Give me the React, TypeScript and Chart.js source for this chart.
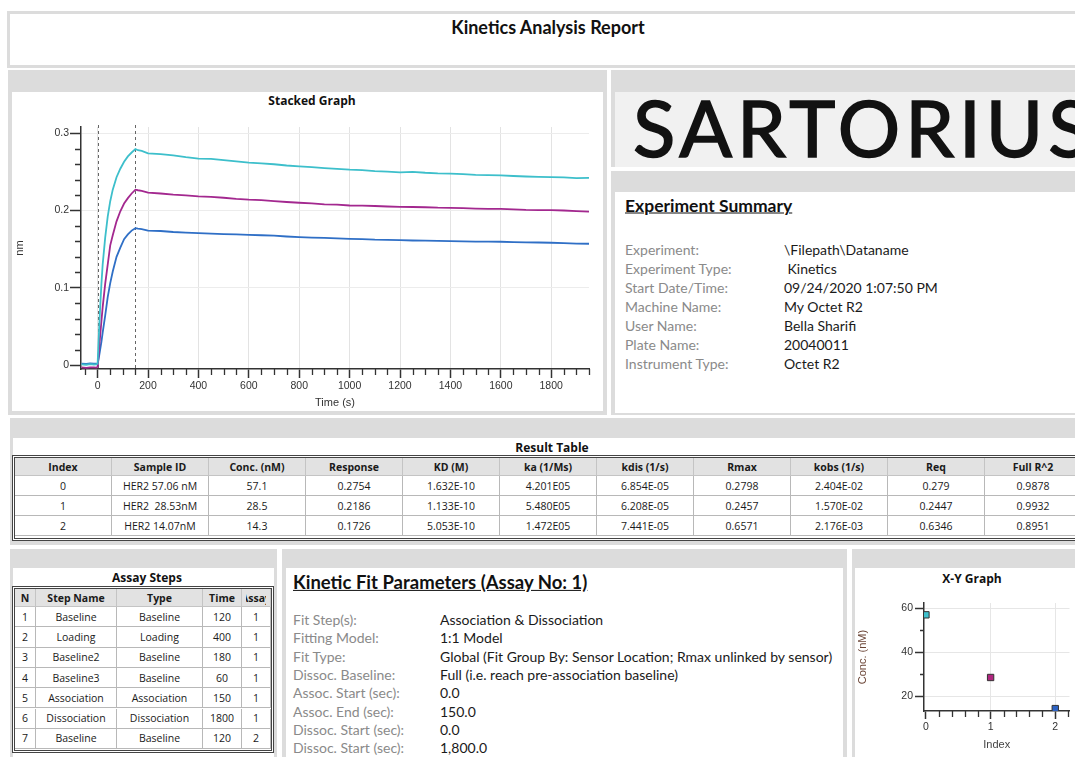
import React, { useEffect, useRef } from "react";
import { Chart, registerables } from "chart.js";
Chart.register(...registerables);

// ---------- Stacked graph data ----------
const TIME_S = [
  -64, -45, -30, -15, -5, 0,
  5, 10, 15, 20, 30, 40, 50, 60, 75, 90, 105, 120, 135, 150,
  160, 175, 200, 250, 300, 350, 400, 450, 500, 550, 600, 650, 700, 750, 800, 850, 900, 950,
  1000, 1050, 1100, 1150, 1200, 1250, 1300, 1350, 1400, 1450, 1500, 1550, 1600, 1650, 1700,
  1750, 1800, 1850, 1900, 1950,
];
const CYAN_NM = [
  0.001, 0.0005, 0.0012, 0.0008, 0.001, 0.002,
  0.04, 0.075, 0.105, 0.13, 0.165, 0.192, 0.212, 0.227, 0.243, 0.254, 0.263, 0.27, 0.275, 0.2795,
  0.278, 0.2772, 0.274, 0.2728, 0.2712, 0.269, 0.2672, 0.2668, 0.2652, 0.2635, 0.2618, 0.261, 0.2598,
  0.2582, 0.257, 0.256, 0.2548, 0.2538, 0.2528, 0.2522, 0.251, 0.2503, 0.2492, 0.25, 0.2488, 0.248,
  0.2478, 0.247, 0.2462, 0.2458, 0.2455, 0.2446, 0.244, 0.2436, 0.2432, 0.2428, 0.242, 0.2422,
];
const MAGENTA_NM = [
  -0.003, -0.0035, -0.0028, -0.003, -0.0032, -0.002,
  0.018, 0.038, 0.057, 0.075, 0.105, 0.13, 0.155, 0.168, 0.186, 0.199, 0.209, 0.216, 0.222, 0.227,
  0.2262, 0.2255, 0.223, 0.222, 0.2205, 0.2195, 0.2182, 0.2176, 0.2165, 0.215, 0.214, 0.2135, 0.2122,
  0.211, 0.21, 0.2092, 0.208, 0.2075, 0.2065, 0.2062, 0.2058, 0.2052, 0.2048, 0.2045, 0.2042, 0.2036,
  0.2035, 0.203, 0.2025, 0.2022, 0.202, 0.2015, 0.2008, 0.2006, 0.2004, 0.2, 0.1993, 0.1985,
];
const BLUE_NM = [
  0.002, 0.0015, 0.0022, 0.0018, 0.002, 0.001,
  0.01, 0.02, 0.03, 0.042, 0.064, 0.088, 0.106, 0.121, 0.14, 0.152, 0.163, 0.169, 0.174, 0.1772,
  0.1765, 0.176, 0.174, 0.1735, 0.1722, 0.1715, 0.1708, 0.1702, 0.1695, 0.169, 0.1686, 0.168, 0.1674,
  0.1664, 0.1656, 0.165, 0.1645, 0.164, 0.1634, 0.163, 0.1623, 0.162, 0.1617, 0.1612, 0.161, 0.1606,
  0.1604, 0.16, 0.1598, 0.1597, 0.1596, 0.1592, 0.1588, 0.1586, 0.1583, 0.1578, 0.1572, 0.157,
];
const SERIES_LABELS = ["HER2 57.06 nM", "HER2 28.53nM", "HER2 14.07nM"];
const SERIES_COLORS = ["#3dbfcb", "#a3288f", "#2f6fc6"];
const STEP_BOUNDARIES_S = [0, 150];

// ---------- Result table ----------
const RESULT_COLUMNS = ["Index", "Sample ID", "Conc. (nM)", "Response", "KD (M)", "ka (1/Ms)", "kdis (1/s)", "Rmax", "kobs (1/s)", "Req", "Full R^2"];
const RESULT_INDEX = [0, 1, 2];
const SAMPLE_ID = ["HER2 57.06 nM", "HER2  28.53nM", "HER2 14.07nM"];
const CONC_NM = [57.1, 28.5, 14.3];
const RESPONSE = ["0.2754", "0.2186", "0.1726"];
const KD_M = ["1.632E-10", "1.133E-10", "5.053E-10"];
const KA = ["4.201E05", "5.480E05", "1.472E05"];
const KDIS = ["6.854E-05", "6.208E-05", "7.441E-05"];
const RMAX = ["0.2798", "0.2457", "0.6571"];
const KOBS = ["2.404E-02", "1.570E-02", "2.176E-03"];
const REQ = ["0.279", "0.2447", "0.6346"];
const FULL_R2 = ["0.9878", "0.9932", "0.8951"];

// ---------- Assay steps ----------
const STEP_COLUMNS = ["N", "Step Name", "Type", "Time", "Assay"];
const STEP_N = [1, 2, 3, 4, 5, 6, 7];
const STEP_NAME = ["Baseline", "Loading", "Baseline2", "Baseline3", "Association", "Dissociation", "Baseline"];
const STEP_TYPE = ["Baseline", "Loading", "Baseline", "Baseline", "Association", "Dissociation", "Baseline"];
const STEP_TIME = [120, 400, 180, 60, 150, 1800, 120];
const STEP_ASSAY = [1, 1, 1, 1, 1, 1, 2];

// ---------- Text blocks ----------
const SUMMARY_LABELS = ["Experiment:", "Experiment Type:", "Start Date/Time:", "Machine Name:", "User Name:", "Plate Name:", "Instrument Type:"];
const SUMMARY_VALUES = ["\\Filepath\\Dataname", " Kinetics", "09/24/2020 1:07:50 PM", "My Octet R2", "Bella Sharifi", "20040011", "Octet R2"];
const FIT_LABELS = ["Fit Step(s):", "Fitting Model:", "Fit Type:", "Dissoc. Baseline:", "Assoc. Start (sec):", "Assoc. End (sec):", "Dissoc. Start (sec):", "Dissoc. Start (sec):"];
const FIT_VALUES = ["Association & Dissociation", "1:1 Model", "Global (Fit Group By: Sensor Location; Rmax unlinked by sensor)", "Full (i.e. reach pre-association baseline)", "0.0", "150.0", "0.0", "1,800.0"];

// ---------- X-Y graph ----------
const XY_COLORS = ["#3fc0cc", "#b0267f", "#2d63c4"];

const GRAY = "#dcdcdc";
const SANS = "'Open Sans', sans-serif";
const CAL = "Lato, sans-serif";
const ARIAL = "'Liberation Sans', Arial, sans-serif";
const CLEAR = "rgba(0,0,0,0)";

const isMajor = (v: number, step: number) => Math.abs(v / step - Math.round(v / step)) < 1e-6;

const minorTicksPlugin = {
  id: "minorTicks",
  afterDraw(chart: any, _a: any, opts: any) {
    const { ctx, scales } = chart;
    const xs = scales.x;
    const ys = scales.y;
    ctx.save();
    ctx.strokeStyle = opts.color;
    ctx.lineWidth = opts.width;
    ctx.beginPath();
    xs.ticks.forEach((t: any) => {
      if (!isMajor(t.value, opts.xMajor)) {
        const p = Math.round(xs.getPixelForValue(t.value)) + 0.5;
        ctx.moveTo(p, xs.top);
        ctx.lineTo(p, xs.top + opts.xLen);
      }
    });
    ys.ticks.forEach((t: any) => {
      if (!isMajor(t.value, opts.yMajor)) {
        const p = Math.round(ys.getPixelForValue(t.value)) + 0.5;
        ctx.moveTo(ys.right - opts.yLen, p);
        ctx.lineTo(ys.right, p);
      }
    });
    ctx.stroke();
    ctx.restore();
  },
};

const stepLinesPlugin = {
  id: "stepLines",
  beforeDatasetsDraw(chart: any, _a: any, opts: any) {
    if (!opts || !opts.values) return;
    const { ctx, chartArea, scales } = chart;
    ctx.save();
    ctx.setLineDash([3, 3]);
    ctx.strokeStyle = "#666";
    ctx.lineWidth = 1;
    opts.values.forEach((v: number) => {
      const p = Math.round(scales.x.getPixelForValue(v)) + 0.5;
      ctx.beginPath();
      ctx.moveTo(p, chartArea.top - 2);
      ctx.lineTo(p, chartArea.bottom);
      ctx.stroke();
    });
    ctx.restore();
  },
};

function StackedChart() {
  const ref = useRef<HTMLCanvasElement>(null);
  useEffect(() => {
    const series = [CYAN_NM, MAGENTA_NM, BLUE_NM];
    const chart = new Chart(ref.current as HTMLCanvasElement, {
      type: "line",
      data: {
        datasets: series.map((vals, si) => ({
          label: SERIES_LABELS[si],
          data: TIME_S.map((t, i) => ({ x: t, y: vals[i] })),
          borderColor: SERIES_COLORS[si],
          borderWidth: 1.8,
          pointRadius: 0,
          tension: 0,
          fill: false,
        })),
      },
      options: {
        animation: false,
        responsive: false,
        maintainAspectRatio: false,
        layout: { padding: { left: 0, right: 14, top: 35, bottom: 0 } },
        plugins: {
          legend: { display: false },
          tooltip: { enabled: false },
          minorTicks: { xMajor: 200, yMajor: 0.1, xLen: 6, yLen: 6, color: "#333", width: 1.3 },
          stepLines: { values: STEP_BOUNDARIES_S },
        } as any,
        scales: {
          x: {
            type: "linear",
            min: -66,
            max: 1950,
            afterFit: (s: any) => { s.height = 41; },
            border: { color: "#333", width: 1.5 },
            grid: {
              color: (c: any) => (c.tick && isMajor(c.tick.value, 200) ? "#e3e3e3" : CLEAR),
              tickColor: (c: any) => (c.tick && isMajor(c.tick.value, 200) ? "#333" : CLEAR),
              tickLength: 9,
              tickWidth: 1.5,
            },
            ticks: {
              stepSize: 50,
              autoSkip: false,
              includeBounds: false,
              maxRotation: 0,
              padding: 2,
              color: "#333",
              font: { family: ARIAL, size: 10.5 },
              callback: (v: any) => (isMajor(Number(v), 200) ? String(v) : ""),
            },
            title: { display: true, text: "Time (s)", color: "#333", font: { family: ARIAL, size: 11 }, padding: { top: 0, bottom: 0 } },
          },
          y: {
            min: -0.005,
            max: 0.308,
            afterFit: (s: any) => { s.width = 69; },
            border: { color: "#333", width: 1.5 },
            grid: {
              color: (c: any) => (c.tick && isMajor(c.tick.value, 0.1) && c.tick.value > 0 ? "#ececec" : CLEAR),
              tickColor: (c: any) => (c.tick && isMajor(c.tick.value, 0.1) ? "#333" : CLEAR),
              tickLength: 11,
              tickWidth: 1.5,
            },
            ticks: {
              stepSize: 0.02,
              autoSkip: false,
              includeBounds: false,
              padding: 1,
              color: "#333",
              font: { family: ARIAL, size: 10.5 },
              callback: (v: any) => (isMajor(Number(v), 0.1) ? String(Math.round(Number(v) * 10) / 10) : ""),
            },
            title: { display: true, text: "nm", color: "#333", font: { family: ARIAL, size: 11 }, padding: { top: 1, bottom: 0 } },
          },
        },
      } as any,
      plugins: [minorTicksPlugin, stepLinesPlugin],
    });
    return () => chart.destroy();
  }, []);
  return <canvas ref={ref} width={591} height={318} style={{ position: "absolute", left: 12, top: 92, width: 591, height: 318 }} />;
}

function XYChart() {
  const ref = useRef<HTMLCanvasElement>(null);
  useEffect(() => {
    const chart = new Chart(ref.current as HTMLCanvasElement, {
      type: "scatter",
      data: {
        datasets: [
          {
            label: "Conc. (nM)",
            data: RESULT_INDEX.map((x, i) => ({ x, y: CONC_NM[i] })),
            pointStyle: "rect",
            pointRadius: 4.5,
            pointBackgroundColor: XY_COLORS,
            pointBorderColor: "#333",
            pointBorderWidth: 1,
            showLine: false,
          },
        ],
      },
      options: {
        animation: false,
        responsive: false,
        maintainAspectRatio: false,
        layout: { padding: { left: 0, right: 5, top: 34, bottom: 5 } },
        plugins: {
          legend: { display: false },
          tooltip: { enabled: false },
          minorTicks: { xMajor: 1, yMajor: 20, xLen: 6, yLen: 4, color: "#333", width: 1.3 },
        } as any,
        scales: {
          x: {
            type: "linear",
            min: -0.03,
            max: 2.22,
            afterFit: (s: any) => { s.height = 41; },
            border: { color: "#333", width: 1.5 },
            grid: {
              color: (c: any) => (c.tick && isMajor(c.tick.value, 1) && c.tick.value > 0 ? "#e6e6e6" : CLEAR),
              tickColor: (c: any) => (c.tick && isMajor(c.tick.value, 1) ? "#333" : CLEAR),
              tickLength: 8,
              tickWidth: 1.5,
            },
            ticks: {
              stepSize: 0.2,
              autoSkip: false,
              includeBounds: false,
              maxRotation: 0,
              padding: 2,
              color: "#333",
              font: { family: ARIAL, size: 10.5 },
              callback: (v: any) => (isMajor(Number(v), 1) ? String(Math.round(Number(v))) : ""),
            },
            title: { display: true, text: "Index", color: "#444", font: { family: ARIAL, size: 11 }, padding: { top: 0, bottom: 0 } },
          },
          y: {
            min: 13.2,
            max: 62.5,
            afterFit: (s: any) => { s.width = 69; },
            border: { color: "#333", width: 1.5 },
            grid: {
              color: (c: any) => (c.tick && isMajor(c.tick.value, 20) ? "#e6e6e6" : CLEAR),
              tickColor: (c: any) => (c.tick && isMajor(c.tick.value, 20) ? "#333" : CLEAR),
              tickLength: 9,
              tickWidth: 1.5,
            },
            ticks: {
              stepSize: 10,
              autoSkip: false,
              includeBounds: false,
              padding: 2,
              color: "#333",
              font: { family: ARIAL, size: 10.5 },
              callback: (v: any) => (isMajor(Number(v), 20) ? String(Math.round(Number(v))) : ""),
            },
            title: { display: true, text: "Conc. (nM)", color: "#6b4536", font: { family: ARIAL, size: 11 }, padding: { top: 1, bottom: 0 } },
          },
        },
      } as any,
      plugins: [minorTicksPlugin],
    });
    return () => chart.destroy();
  }, []);
  return <canvas ref={ref} width={220} height={188} style={{ position: "absolute", left: 855, top: 569, width: 220, height: 188 }} />;
}

function Box(p: { x: number; y: number; w: number; h: number; bg: string; style?: any; children?: any }) {
  return (
    <div style={{ position: "absolute", left: p.x, top: p.y, width: p.w, height: p.h, background: p.bg, ...(p.style || {}) }}>
      {p.children}
    </div>
  );
}

function Txt(p: { x: number; y: number; text: string; size: number; bold?: boolean; color?: string; family?: string; center?: boolean; underline?: boolean }) {
  return (
    <div
      style={{
        position: "absolute",
        left: p.x,
        top: p.y,
        transform: `translate(${p.center ? "-50%" : "0"}, -50%)`,
        fontFamily: p.family || CAL,
        fontSize: p.size,
        fontWeight: p.bold ? 700 : 400,
        color: p.color || "#111",
        whiteSpace: "pre",
        lineHeight: 1.2,
        textDecoration: p.underline ? "underline" : "none",
      }}
    >
      {p.text}
    </div>
  );
}

function Cell(p: { x: number; y: number; w: number; h: number; text: string; bold?: boolean; bg: string; border: string; inset?: number }) {
  const inset = p.inset || 0;
  return (
    <div
      style={{
        position: "absolute",
        left: p.x,
        top: p.y,
        width: p.w,
        height: p.h,
        boxSizing: "border-box",
        borderRight: `1px solid ${p.border}`,
        borderBottom: `1px solid ${p.border}`,
        background: p.bg,
      }}
    >
      <div
        style={{
          position: "absolute",
          left: inset,
          right: inset,
          top: 0,
          bottom: 0,
          display: "flex",
          alignItems: "center",
          justifyContent: "center",
          overflow: "hidden",
          whiteSpace: "pre",
          fontFamily: SANS,
          fontSize: 10.5,
          fontWeight: p.bold ? 700 : 400,
          color: "#1a1a1a",
        }}
      >
        {p.text}
      </div>
    </div>
  );
}

function ResultTable() {
  const left = 15;
  const top = 458;
  const colW = 97;
  const headH = 18;
  const rowH = 20;
  const rows = RESULT_INDEX.map((idx, i) => [
    String(idx), SAMPLE_ID[i], CONC_NM[i].toFixed(1), RESPONSE[i], KD_M[i], KA[i], KDIS[i], RMAX[i], KOBS[i], REQ[i], FULL_R2[i],
  ]);
  return (
    <>
      <div style={{ position: "absolute", left: 12, top: 455, width: 1080, height: 86, boxSizing: "border-box", border: "3px double #444", background: "#fff" }} />
      {RESULT_COLUMNS.map((c, j) => (
        <Cell key={"h" + j} x={left + j * colW} y={top} w={colW} h={headH} text={c} bold bg="#e2e2e2" border="#c4c4c4" />
      ))}
      {rows.map((r, i) =>
        r.map((v, j) => <Cell key={i + "-" + j} x={left + j * colW} y={top + headH + i * rowH} w={colW} h={rowH} text={v} bg="#fff" border="#b8b8b8" />)
      )}
    </>
  );
}

function AssayTable() {
  const colX = [15, 36, 117, 203, 242];
  const colW = [21, 81, 86, 39, 29];
  const top = 589;
  const headH = 18;
  const rowH = 20.3;
  const rows = STEP_N.map((n, i) => [String(n), STEP_NAME[i], STEP_TYPE[i], String(STEP_TIME[i]), String(STEP_ASSAY[i])]);
  return (
    <>
      <div style={{ position: "absolute", left: 12, top: 586, width: 262, height: 167, boxSizing: "border-box", border: "3px double #444", background: "#fff" }} />
      {STEP_COLUMNS.map((c, j) => (
        <Cell key={"h" + j} x={colX[j]} y={top} w={colW[j]} h={headH} text={c} bold bg="#e2e2e2" border="#c4c4c4" inset={j === 4 ? 4 : 0} />
      ))}
      {rows.map((r, i) =>
        r.map((v, j) => <Cell key={i + "-" + j} x={colX[j]} y={top + headH + i * rowH} w={colW[j]} h={rowH} text={v} bg="#fff" border="#b8b8b8" />)
      )}
    </>
  );
}

export default function App() {
  return (
    <div style={{ position: "absolute", left: 0, top: 0, width: 1075, height: 757, overflow: "hidden", background: "#fff" }}>
      {/* Header */}
      <Box x={7} y={11} w={1075} h={57} bg={GRAY} />
      <Box x={10} y={14} w={1075} h={51} bg="#fff" />
      <Txt x={548} y={28} text="Kinetics Analysis Report" size={18} bold center />

      {/* Stacked graph panel */}
      <Box x={8} y={70} w={599} h={345} bg={GRAY} />
      <Box x={12} y={92} w={591} h={319} bg="#fff" />
      <Txt x={312} y={101} text="Stacked Graph" size={12} bold center family={SANS} />
      <StackedChart />

      {/* Logo panel */}
      <Box x={611} y={70} w={470} h={97} bg={GRAY} />
      <Box x={615} y={92} w={470} h={75} bg="#f1f1f1" style={{ overflow: "hidden" }}>
        <div
          style={{
            position: "absolute",
            left: 18,
            top: -5,
            fontFamily: CAL,
            fontWeight: 400,
            fontSize: 78,
            lineHeight: "80px",
            letterSpacing: 5,
            color: "#121212",
            WebkitTextStroke: "1.6px #121212",
            whiteSpace: "pre",
          }}
        >
          SARTORIUS
        </div>
      </Box>

      {/* Experiment summary */}
      <Box x={611} y={171} w={470} h={244} bg={GRAY} />
      <Box x={615} y={192} w={470} h={221} bg="#fff" />
      <Txt x={625} y={205} text="Experiment Summary" size={17.5} bold underline />
      {SUMMARY_LABELS.map((l, i) => (
        <React.Fragment key={l}>
          <Txt x={625} y={250 + 19 * i} text={l} size={14} color="#8a8a8a" />
          <Txt x={784} y={250 + 19 * i} text={SUMMARY_VALUES[i]} size={14} color="#1a1a1a" />
        </React.Fragment>
      ))}

      {/* Result table panel */}
      <Box x={10} y={418} w={1070} h={127} bg={GRAY} />
      <Box x={13} y={438} w={1070} h={19} bg="#fff" />
      <Txt x={552} y={448} text="Result Table" size={12} bold center family={SANS} />
      <ResultTable />

      {/* Assay steps panel */}
      <Box x={10} y={549} w={267} h={210} bg={GRAY} />
      <Box x={13} y={568} w={261} h={190} bg="#fff" />
      <Txt x={147} y={578} text="Assay Steps" size={12} bold center family={SANS} />
      <AssayTable />

      {/* Kinetic fit panel */}
      <Box x={282} y={549} w={565} h={210} bg={GRAY} />
      <Box x={286} y={568} w={557} h={190} bg="#fff" />
      <Txt x={293} y={582} text="Kinetic Fit Parameters (Assay No: 1)" size={18.5} bold underline />
      {FIT_LABELS.map((l, i) => (
        <React.Fragment key={i}>
          <Txt x={293} y={620 + 18.3 * i} text={l} size={14} color="#8a8a8a" />
          <Txt x={440} y={620 + 18.3 * i} text={FIT_VALUES[i]} size={14} color="#1a1a1a" />
        </React.Fragment>
      ))}

      {/* X-Y graph panel */}
      <Box x={852} y={549} w={230} h={210} bg={GRAY} />
      <Box x={855} y={568} w={230} h={190} bg="#fff" />
      <Txt x={972} y={579} text="X-Y Graph" size={12} bold center family={SANS} />
      <XYChart />
    </div>
  );
}
